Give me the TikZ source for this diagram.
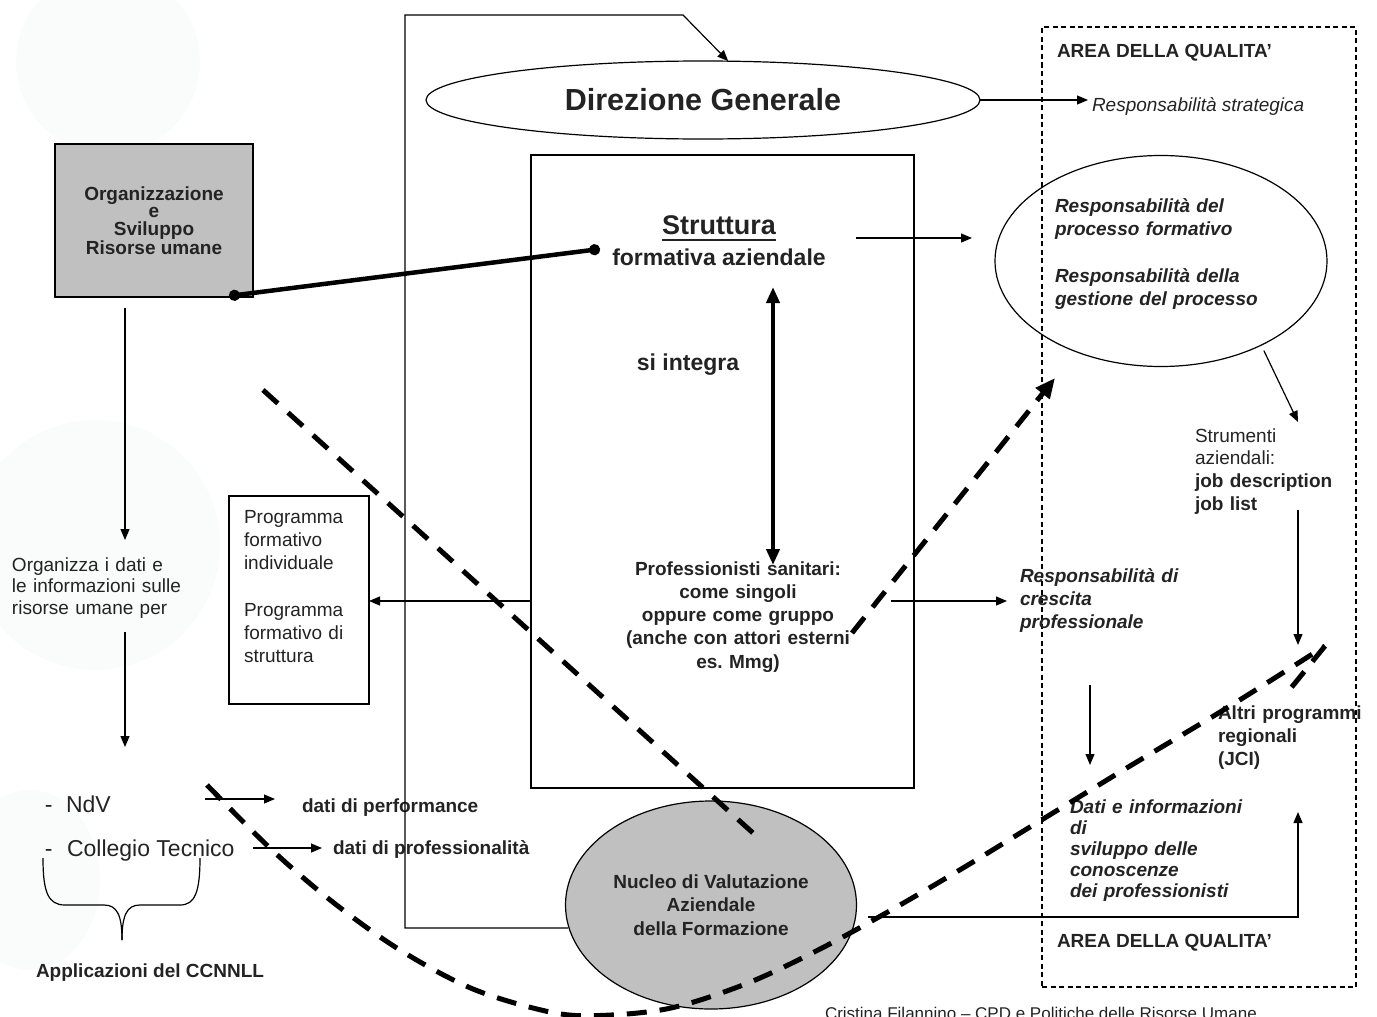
\documentclass[tikz,border=0pt]{standalone}
\usepackage{fontspec}
\setmainfont{Liberation Sans}
\usetikzlibrary{shapes.geometric,arrows.meta,calc}
\definecolor{ink}{HTML}{232323}
\definecolor{panel}{HTML}{C0C0C0}
\definecolor{haze}{HTML}{FAFBFB}
\frenchspacing
\begin{document}
\begin{tikzpicture}[x=1pt,y=-1pt,
  every node/.style={inner sep=0pt,outer sep=0pt,text=ink},
  reg/.style={font=\fontsize{19}{22.5}\selectfont},
  bld/.style={font=\bfseries\fontsize{19}{22.5}\selectfont},
  bit/.style={font=\bfseries\itshape\fontsize{19}{23}\selectfont},
  frame/.style={draw,line width=1.2},
  link/.style={line width=1.2},
  arr/.style={link,-{Triangle[length=11,width=9]}},
  bold dash/.style={line width=5,dash pattern=on 20 off 13},
]
\useasboundingbox (0,0) rectangle (1377,1017);

% faint background marks
\fill[haze] (108,62) circle (92);
\fill[haze] (95,545) circle (125);
\fill[haze] (30,880) ellipse (70 and 90);

% ---------- main shapes ----------
\node[ellipse,frame,minimum width=554,minimum height=78,
      font=\bfseries\fontsize{30.5}{36}\selectfont] (dir) at (703,100) {Direzione Generale};

\node[frame,fill=panel,minimum width=198,minimum height=153,align=center,
      font=\bfseries\fontsize{19}{17.7}\selectfont] (org) at (154,220.5)
      {Organizzazione\\e\\Sviluppo\\Risorse umane};

\node[frame,minimum width=383,minimum height=633] (strut) at (722.5,471.5) {};
\node[frame,minimum width=140,minimum height=208] (prog) at (299,600) {};
\node[ellipse,frame,minimum width=332,minimum height=211] (resp) at (1161,261) {};
\node[ellipse,frame,fill=panel,minimum width=291,minimum height=208,align=center,
      font=\bfseries\fontsize{19}{23.5}\selectfont] (nucleo) at (711,905)
      {Nucleo di Valutazione\\Aziendale\\della Formazione};
\node[draw,line width=1.2,dash pattern=on 5 off 3.5,minimum width=314,minimum height=960] (area) at (1199,507) {};

% ---------- texts ----------
\node[font=\bfseries\fontsize{27}{31}\selectfont,anchor=base] (strT) at (719,234) {Struttura};
\draw[line width=2,ink] ($(strT.base west)+(0,6)$) -- ($(strT.base east)+(0,6)$);
\node[font=\bfseries\fontsize{23}{27}\selectfont,anchor=base] (strF) at (719,265) {formativa aziendale};
\node[font=\bfseries\fontsize{23}{27}\selectfont,anchor=base] (integ) at (688,370) {si integra};
\node[font=\bfseries\fontsize{19}{23.3}\selectfont,text width=260,align=center,anchor=base] (prof) at (738,575)
  {Professionisti sanitari:\\come singoli\\oppure come gruppo\\(anche con attori esterni\\es. Mmg)};

\node[font=\fontsize{19}{23.3}\selectfont,text width=130,align=left,anchor=base west] (pg1) at (244,523)
  {Programma\\formativo\\individuale};
\node[font=\fontsize{19}{23.3}\selectfont,text width=130,align=left,anchor=base west] (pg2) at (244,616)
  {Programma\\formativo di\\struttura};

\node[font=\fontsize{19}{21.5}\selectfont,text width=200,align=left,anchor=base west] (orgz) at (12,571)
  {Organizza i dati e\\le informazioni sulle\\risorse umane per};

\node[font=\fontsize{23}{27}\selectfont,anchor=base west] (hy1) at (45,812) {-};
\node[font=\fontsize{23}{27}\selectfont,anchor=base west] (ndv) at (66,812) {NdV};
\node[font=\fontsize{23}{27}\selectfont,anchor=base west] (hy2) at (45,856) {-};
\node[font=\fontsize{23}{27}\selectfont,anchor=base west] (coll) at (67,856) {Collegio Tecnico};
\node[bld,anchor=base west] (perf) at (302,812) {dati di performance};
\node[bld,anchor=base west] (profl) at (333,854) {dati di professionalità};
\node[bld,anchor=base west] (appl) at (36,977) {Applicazioni del CCNNLL};

\node[bld,anchor=base west] (areaT) at (1057,57) {AREA DELLA QUALITA’};
\node[bld,anchor=base west] (areaB) at (1057,947) {AREA DELLA QUALITA’};
\node[font=\itshape\fontsize{19}{22.5}\selectfont,anchor=base west] (strat) at (1092,111) {Responsabilità strategica};
\node[bit,text width=260,align=left,anchor=base west] (rp1) at (1055,212) {Responsabilità del\\processo formativo};
\node[bit,text width=260,align=left,anchor=base west] (rp2) at (1055,282) {Responsabilità della\\gestione del processo};
\node[font=\fontsize{19}{22.7}\selectfont,text width=170,align=left,anchor=base west] (strm) at (1195,442)
  {Strumenti\\aziendali:\\\textbf{job description}\\\textbf{job list}};
\node[bit,text width=200,align=left,anchor=base west] (cres) at (1020,582) {Responsabilità di\\crescita\\professionale};
\node[font=\bfseries\fontsize{19}{23}\selectfont,text width=170,align=left,anchor=base west] (altri) at (1218,719)
  {Altri programmi\\regionali\\(JCI)};
\node[font=\bfseries\itshape\fontsize{19}{21}\selectfont,text width=220,align=left,anchor=base west] (dati) at (1070,813)
  {Dati e informazioni\\di\\sviluppo delle\\conoscenze\\dei professionisti};

\node[font=\fontsize{17}{20}\selectfont,anchor=base west] (foot) at (825,1019)
  {Cristina Filannino – CPD e Politiche delle Risorse Umane};

% ---------- connector end points ----------
\coordinate (loopS) at (568,928);
\coordinate (loopA) at (405,928);
\coordinate (loopB) at (405,15);
\coordinate (loopC) at (683,15);
\coordinate (tA) at (229,296);
\coordinate (tB) at (600,249);
\coordinate (sA) at (856,238);
\coordinate (sB) at (972,238);
\coordinate (iA) at (773,287);
\coordinate (iB) at (773,565);
\coordinate (pY) at (0,601);
\coordinate (qA) at (891,601);
\coordinate (qB) at (1007,601);
\coordinate (jA) at (1298,422);
\coordinate (jB) at (1298,510);
\coordinate (jC) at (1298,645);
\coordinate (cA) at (1090,685);
\coordinate (cB) at (1090,765);
\coordinate (nA) at (868,917);
\coordinate (nB) at (1298,917);
\coordinate (nC) at (1298,812);
\coordinate (lA) at (125,308);
\coordinate (lB) at (125,540);
\coordinate (lC) at (125,632);
\coordinate (lD) at (125,747);
\coordinate (dA) at (205,799);
\coordinate (dB) at (275,799);
\coordinate (eA) at (253,848);
\coordinate (eB) at (322,848);
\coordinate (gA) at (852,633);
\coordinate (gB) at (1055,378);
\coordinate (hA) at (263,390);
\coordinate (hB) at (753,833);
\coordinate (kA) at (1325,646);
\coordinate (kB) at (1291,688);

% ---------- connectors ----------
\draw[arr] (loopS) -- (loopA) -- (loopB) -- (loopC) -- (dir.57);
\draw[arr] (dir.east) -- ($(strat.west |- dir.east)+(-4,0)$);
\draw[line width=4.5,{Circle[length=11]}-{Circle[length=11]}] (tA) -- (tB);
\draw[arr] (sA) -- (sB);
\draw[line width=4,{Triangle[length=16,width=13]}-{Triangle[length=16,width=13]}] (iA) -- (iB);
\draw[arr] (strut.west |- pY) -- (prog.east |- pY);
\draw[arr] (qA) -- (qB);
\draw[arr,shorten <=6] (resp.-40) -- (jA);
\draw[arr] (jB) -- (jC);
\draw[arr] (cA) -- (cB);
\draw[arr] (nA) -- (nB) -- (nC);
\draw[arr] (lA) -- (lB);
\draw[arr] (lC) -- (lD);
\draw[arr] (dA) -- (dB);
\draw[arr] (eA) -- (eB);

% brace under the two bodies
\draw[link] (43,858) .. controls (43,892) and (48,905) .. (65,905) -- (104,905)
  .. controls (117,905) and (122,915) .. (122,940);
\draw[link] (200,858) .. controls (200,892) and (195,905) .. (180,905) -- (140,905)
  .. controls (127,905) and (122,915) .. (122,940);

% bold dashed guide lines
\draw[bold dash,dash pattern=on 20 off 13.7] (hA) -- (hB);
\draw[bold dash,-{Triangle[length=20,width=17]}] (gA) -- (gB);
\draw[bold dash] plot[smooth,tension=0.55] coordinates {
  (207,785) (272,850) (334,903) (400,950) (473,989) (550,1012) (600,1015.5)
  (671,1008) (748,983) (822,948) (893,909) (963,868) (1030,827) (1130,766)
  (1230,706) (1325,646)};
\draw[bold dash] (kA) -- (kB);
\end{tikzpicture}
\end{document}
